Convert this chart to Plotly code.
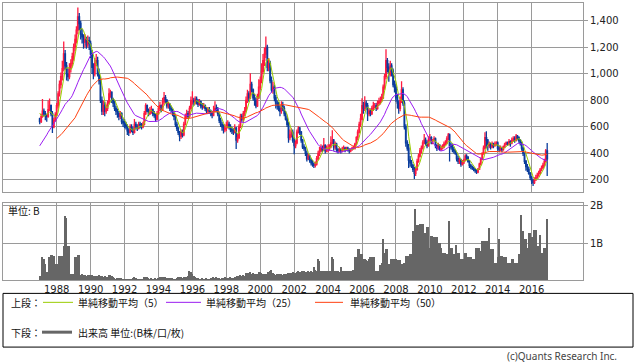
import pandas as pd
import plotly.graph_objects as go

# ---------------- data (monthly, Jan 1987 - Dec 2016) ----------------
# closes before the visible window (needed only for the moving averages), Dec 1983 - Dec 1986
pre_close = [
    430,
    440, 460, 470, 480, 470, 460, 450, 440, 450, 440, 430, 430,
    300, 290, 280, 270, 260, 250, 260, 270, 280, 290, 300, 310,
    400, 460, 520, 560, 600, 640, 680, 700, 760, 740, 720, 660,
]

close = [
    640, 680, 720, 700, 690, 680, 730, 760, 700, 600, 650, 690,            # 1987
    760, 850, 920, 980, 1040, 1150, 1060, 1000, 980, 1040, 1080, 1130,     # 1988
    1200, 1260, 1330, 1430, 1380, 1300, 1280, 1240, 1260, 1220, 1250, 1230,  # 1989
    1150, 1050, 1000, 1080, 1100, 1000, 950, 800, 720, 760, 720, 740,      # 1990
    780, 850, 860, 800, 780, 740, 720, 700, 680, 700, 640, 630,            # 1991
    620, 600, 570, 560, 600, 580, 560, 620, 600, 590, 620, 610,            # 1992
    600, 620, 700, 760, 720, 700, 720, 730, 700, 690, 660, 700,            # 1993
    740, 760, 730, 790, 820, 800, 760, 770, 740, 730, 700, 680,            # 1994
    620, 590, 560, 530, 560, 540, 620, 680, 700, 680, 740, 800,            # 1995
    800, 790, 810, 790, 770, 790, 760, 750, 760, 740, 720, 730,            # 1996
    720, 700, 690, 720, 740, 730, 700, 650, 620, 600, 580, 590,            # 1997
    610, 620, 600, 580, 570, 560, 590, 500, 520, 600, 680, 660,            # 1998
    700, 720, 800, 850, 820, 920, 880, 820, 800, 760, 820, 900,            # 1999
    950, 1020, 1100, 1150, 1200, 1050, 1080, 950, 880, 900, 820, 780,      # 2000
    760, 740, 720, 760, 740, 700, 660, 620, 520, 540, 560, 500,            # 2001
    460, 480, 560, 590, 560, 500, 450, 440, 400, 360, 380, 350,            # 2002
    330, 320, 310, 320, 360, 400, 420, 440, 430, 460, 420, 440,            # 2003
    440, 450, 480, 500, 450, 470, 430, 420, 430, 420, 430, 440,            # 2004
    430, 440, 430, 420, 430, 440, 440, 470, 520, 560, 620, 660,            # 2005
    760, 740, 780, 760, 700, 720, 700, 740, 760, 760, 740, 780,            # 2006
    790, 800, 820, 900, 980, 1100, 1050, 1000, 1060, 1020, 920, 900,       # 2007
    820, 780, 740, 800, 880, 780, 600, 480, 440, 350, 330, 310,            # 2008
    280, 250, 280, 340, 380, 420, 440, 480, 500, 480, 460, 500,            # 2009
    520, 480, 500, 510, 460, 440, 460, 430, 440, 450, 470, 480,            # 2010
    510, 540, 460, 450, 430, 420, 400, 360, 340, 350, 320, 330,            # 2011
    350, 380, 370, 340, 310, 300, 290, 280, 270, 260, 280, 320,            # 2012
    360, 400, 440, 520, 500, 460, 470, 450, 470, 460, 470, 480,            # 2013
    440, 430, 440, 430, 450, 470, 480, 470, 490, 480, 500, 510,            # 2014
    500, 530, 520, 500, 480, 440, 400, 340, 300, 280, 250, 220,            # 2015
    195, 180, 200, 215, 235, 250, 275, 290, 310, 340, 420, 360,            # 2016
]

high = [
    670, 700, 810, 740, 720, 700, 800, 815, 770, 720, 670, 710,
    780, 870, 950, 1010, 1100, 1245, 1180, 1090, 1040, 1080, 1110, 1160,
    1230, 1297, 1360, 1500, 1460, 1400, 1340, 1300, 1300, 1280, 1290, 1280,
    1250, 1180, 1080, 1120, 1150, 1130, 1040, 980, 830, 800, 790, 770,
    800, 892, 880, 870, 820, 800, 760, 740, 720, 720, 710, 660,
    660, 640, 620, 590, 620, 620, 600, 660, 640, 620, 640, 640,
    630, 640, 720, 779, 770, 740, 750, 760, 740, 720, 700, 720,
    760, 790, 770, 820, 863, 840, 810, 790, 780, 760, 740, 710,
    690, 640, 600, 570, 580, 580, 640, 700, 730, 720, 760, 830,
    869, 820, 832, 830, 810, 810, 800, 780, 780, 770, 750, 750,
    750, 730, 720, 760, 794, 770, 750, 710, 670, 640, 620, 620,
    640, 650, 640, 620, 600, 590, 620, 600, 550, 620, 700, 700,
    720, 750, 830, 880, 870, 1005, 940, 890, 850, 820, 850, 960,
    980, 1080, 1150, 1200, 1283, 1220, 1120, 1100, 980, 940, 920, 840,
    800, 790, 760, 794, 790, 760, 720, 680, 640, 580, 590, 580,
    520, 500, 580, 606, 600, 570, 510, 470, 450, 420, 400, 390,
    360, 350, 330, 340, 380, 420, 450, 470, 460, 516, 470, 460,
    470, 470, 530, 576, 510, 490, 480, 440, 450, 440, 450, 460,
    450, 450, 450, 440, 440, 450, 460, 480, 530, 580, 640, 700,
    817, 790, 832, 800, 780, 740, 740, 760, 790, 780, 780, 800,
    820, 830, 850, 920, 1000, 1185, 1120, 1080, 1100, 1080, 1040, 950,
    920, 850, 800, 830, 944, 900, 800, 620, 500, 471, 380, 350,
    320, 300, 300, 360, 400, 441, 460, 500, 546, 520, 500, 530,
    546, 530, 510, 530, 520, 470, 480, 470, 460, 470, 490, 500,
    530, 555, 550, 480, 470, 450, 430, 410, 380, 370, 360, 350,
    360, 395, 395, 380, 350, 320, 310, 300, 290, 280, 290, 330,
    370, 410, 460, 560, 568, 510, 490, 480, 490, 480, 490, 493,
    490, 460, 460, 450, 460, 480, 490, 490, 510, 500, 520, 530,
    530, 546, 540, 530, 510, 490, 450, 410, 350, 320, 300, 260,
    230, 210, 220, 240, 255, 270, 290, 310, 330, 360, 433, 478,
]

low = [
    620, 630, 670, 680, 650, 640, 670, 720, 680, 555, 590, 640,
    680, 740, 830, 890, 950, 1020, 1030, 950, 945, 960, 1010, 1060,
    1100, 1170, 1230, 1300, 1330, 1260, 1230, 1190, 1200, 1190, 1200, 1180,
    1120, 1000, 960, 980, 1060, 980, 920, 780, 690, 690, 681, 700,
    720, 770, 820, 780, 750, 720, 690, 670, 650, 660, 620, 600,
    590, 580, 540, 531, 550, 560, 540, 550, 580, 570, 580, 590,
    580, 590, 610, 690, 710, 680, 690, 700, 680, 670, 640, 650,
    690, 720, 710, 720, 770, 780, 740, 740, 720, 710, 680, 650,
    600, 570, 540, 493, 510, 520, 530, 610, 660, 660, 670, 730,
    770, 760, 770, 770, 750, 760, 740, 730, 740, 720, 700, 700,
    700, 680, 666, 680, 710, 710, 680, 630, 600, 571, 550, 560,
    570, 590, 580, 560, 546, 540, 550, 433, 480, 510, 590, 640,
    640, 680, 710, 780, 790, 810, 860, 800, 760, 741, 750, 810,
    880, 930, 1000, 1060, 1120, 1020, 1020, 930, 860, 850, 794, 740,
    730, 719, 680, 700, 720, 680, 649, 600, 480, 500, 520, 480,
    395, 440, 470, 550, 540, 480, 433, 420, 380, 340, 350, 330,
    310, 300, 290, 295, 310, 350, 380, 410, 410, 420, 400, 410,
    410, 420, 440, 470, 420, 430, 410, 400, 410, 400, 410, 420,
    410, 420, 415, 400, 410, 420, 430, 430, 460, 500, 550, 600,
    650, 700, 720, 730, 644, 680, 680, 690, 720, 740, 720, 730,
    760, 770, 790, 810, 880, 960, 1010, 940, 980, 980, 900, 860,
    790, 740, 700, 719, 780, 760, 580, 450, 420, 290, 300, 290,
    260, 207, 230, 270, 330, 370, 400, 430, 470, 460, 440, 450,
    490, 470, 470, 490, 440, 418, 430, 420, 420, 430, 440, 460,
    470, 500, 340, 430, 410, 400, 390, 340, 320, 320, 300, 310,
    320, 340, 350, 330, 290, 280, 275, 265, 255, 245, 250, 275,
    310, 350, 390, 430, 440, 420, 440, 430, 440, 440, 450, 460,
    420, 410, 418, 410, 420, 440, 460, 456, 460, 450, 470, 490,
    480, 490, 500, 480, 460, 420, 380, 320, 270, 260, 240, 200,
    170, 155, 170, 195, 210, 225, 245, 265, 285, 300, 330, 230,
]

# volume, billions
volume = [
    0.17, 0.17, 0.67, 0.60, 0.48, 0.26, 0.26, 0.65, 0.71, 0.71, 0.70, 0.21,
    0.48, 0.48, 0.69, 0.69, 0.69, 0.95, 1.74, 1.70, 0.95, 0.95, 0.21, 0.21,
    0.21, 0.65, 0.65, 0.71, 0.71, 0.19, 0.20, 0.18, 0.19, 0.17, 0.19, 0.18,
    0.19, 0.18, 0.17, 0.17, 0.15, 0.17, 0.19, 0.17, 0.15, 0.14, 0.15, 0.13,
    0.13, 0.18, 0.19, 0.15, 0.12, 0.10, 0.09, 0.10, 0.10, 0.11, 0.10, 0.09,
    0.08, 0.08, 0.09, 0.07, 0.07, 0.08, 0.10, 0.12, 0.10, 0.09, 0.09, 0.08,
    0.08, 0.09, 0.12, 0.14, 0.12, 0.10, 0.09, 0.10, 0.09, 0.08, 0.10, 0.09,
    0.10, 0.14, 0.13, 0.14, 0.14, 0.12, 0.10, 0.11, 0.10, 0.09, 0.10, 0.09,
    0.09, 0.10, 0.12, 0.14, 0.12, 0.10, 0.12, 0.14, 0.12, 0.17, 0.28, 0.26,
    0.20, 0.15, 0.12, 0.10, 0.10, 0.09, 0.09, 0.10, 0.09, 0.09, 0.10, 0.09,
    0.09, 0.10, 0.10, 0.12, 0.11, 0.12, 0.10, 0.10, 0.09, 0.11, 0.10, 0.12,
    0.11, 0.10, 0.10, 0.12, 0.10, 0.10, 0.14, 0.12, 0.16, 0.17, 0.18, 0.17,
    0.18, 0.17, 0.25, 0.23, 0.24, 0.26, 0.22, 0.24, 0.22, 0.20, 0.22, 0.26,
    0.26, 0.24, 0.22, 0.22, 0.20, 0.22, 0.26, 0.30, 0.33, 0.25, 0.20, 0.19,
    0.20, 0.21, 0.22, 0.20, 0.19, 0.20, 0.22, 0.20, 0.24, 0.23, 0.24, 0.26,
    0.24, 0.25, 0.26, 0.28, 0.26, 0.27, 0.28, 0.30, 0.27, 0.26, 0.28, 0.27,
    0.28, 0.27, 0.39, 0.32, 0.30, 0.61, 0.55, 0.30, 0.30, 0.28, 0.30, 0.29,
    0.30, 0.28, 0.30, 0.67, 0.62, 0.30, 0.28, 0.30, 0.27, 0.40, 0.30, 0.28,
    0.30, 0.29, 0.30, 0.28, 0.29, 0.30, 0.31, 0.65, 0.65, 0.87, 0.87, 0.74,
    0.74, 0.60, 0.60, 0.58, 0.55, 0.60, 0.65, 0.65, 0.65, 0.65, 0.30, 0.30,
    0.30, 0.45, 0.50, 1.13, 0.78, 0.87, 0.87, 0.48, 0.48, 0.60, 0.60, 0.60,
    0.60, 0.57, 0.57, 0.57, 0.48, 0.48, 0.50, 0.69, 0.69, 0.69, 0.74, 0.74,
    1.35, 1.30, 1.94, 1.52, 1.52, 1.54, 1.54, 1.54, 1.29, 1.29, 1.45, 1.45,
    0.91, 1.23, 1.23, 1.20, 1.20, 1.20, 1.04, 1.04, 0.91, 0.78, 0.78, 0.78,
    0.74, 0.74, 1.61, 0.91, 0.91, 0.74, 0.74, 0.97, 0.78, 0.78, 0.61, 0.61,
    0.61, 0.78, 0.78, 0.65, 0.65, 0.65, 0.61, 0.61, 0.61, 0.91, 0.91, 0.91,
    0.82, 1.09, 1.09, 1.09, 1.09, 1.09, 1.42, 0.87, 0.87, 0.87, 0.50, 0.50,
    0.67, 1.13, 0.69, 0.69, 0.67, 0.67, 0.67, 0.50, 0.50, 0.50, 0.61, 0.61,
    0.50, 0.50, 0.50, 0.74, 0.74, 1.77, 1.35, 1.13, 1.13, 0.91, 1.30, 1.30,
    1.20, 1.20, 1.38, 1.38, 0.95, 0.95, 1.25, 0.78, 0.78, 0.91, 0.91, 1.67,
]

year_ticks = [f"{y}-01-01" for y in range(1988, 2017, 2)]
year_labels = [str(y) for y in range(1988, 2017, 2)]
price_ticks = [200, 400, 600, 800, 1000, 1200, 1400]
vol_ticks = [1, 2]
vol_ticktext = ["1B", "2B"]

ma_windows = [5, 25, 50]
ma_colors = ["#99cc00", "#9a1cf0", "#ff4010"]

# ---------------- derived ----------------
n = len(close)
assert len(high) == n and len(low) == n and len(volume) == n
months = pd.date_range("1987-01-01", periods=n, freq="MS")
opens = [pre_close[-1]] + close[:-1]
full = pd.Series(pre_close + close, dtype=float)
mas = [full.rolling(w).mean().iloc[len(pre_close):].values for w in ma_windows]

# ---------------- figure ----------------
W, H = 638, 362
ML, MR = 3, 55
PW = W - ML - MR


def px(xp):
    return (xp - ML) / PW


def py(yp):
    return 1 - yp / H


GRID = "#9a9a9a"
fig = go.Figure()
fig.add_trace(go.Candlestick(
    x=months, open=opens, high=high, low=low, close=close,
    increasing=dict(line=dict(color="#ff1a40", width=1.3), fillcolor="#ff1a40"),
    decreasing=dict(line=dict(color="#0a3c9c", width=1.3), fillcolor="#0a3c9c"),
    whiskerwidth=0, xaxis="x", yaxis="y", hoverinfo="skip"))
for ma, col in zip(mas, ma_colors):
    fig.add_trace(go.Scatter(x=months, y=ma, mode="lines",
                             line=dict(color=col, width=1),
                             xaxis="x", yaxis="y", hoverinfo="skip"))
fig.add_trace(go.Bar(x=months, y=volume, marker=dict(color="#666666", line=dict(width=0)),
                     width=2.7e9, xaxis="x2", yaxis="y2", hoverinfo="skip"))

xcommon = dict(type="date", range=["1984-11-01", "2019-01-11"],
               showgrid=True, gridcolor=GRID, gridwidth=1,
               tickmode="array", tickvals=year_ticks, ticktext=year_labels, ticks="",
               showline=True, mirror=True, linecolor=GRID, linewidth=1,
               zeroline=False)
ycommon = dict(side="right", showgrid=True, gridcolor=GRID, gridwidth=1,
               ticks="outside", ticklen=4, tickcolor=GRID,
               showline=True, mirror=True, linecolor=GRID, linewidth=1,
               zeroline=False, tickfont=dict(family="DejaVu Sans", size=10, color="#222"))

fig.update_layout(
    width=W, height=H, margin=dict(l=ML, r=MR, t=0, b=0),
    paper_bgcolor="white", plot_bgcolor="white", showlegend=False,
    bargap=0,
    xaxis=dict(**xcommon, domain=[0, 1], anchor="y", showticklabels=False,
               rangeslider=dict(visible=False)),
    xaxis2=dict(**xcommon, domain=[0, 1], anchor="y2", matches="x",
                showticklabels=True,
                tickfont=dict(family="DejaVu Sans", size=10, color="#222")),
    yaxis=dict(**ycommon, domain=[py(190.7), py(0.7)], range=[112, 1537],
               tickvals=price_ticks, tickformat=",d"),
    yaxis2=dict(**ycommon, domain=[py(280), py(201.7)], range=[0.03, 2.09],
                tickvals=vol_ticks, ticktext=vol_ticktext),
)

JP = "Noto Sans CJK JP"
shapes = [
    dict(type="rect", xref="paper", yref="paper", x0=px(3), x1=px(633), y0=py(347), y1=py(293),
         line=dict(color="black", width=1), fillcolor="rgba(0,0,0,0)"),
]
row1, row2 = 302, 332
for (a, b), col in zip([(43, 73), (166, 201), (315, 343)], ma_colors):
    shapes.append(dict(type="line", xref="paper", yref="paper", x0=px(a), x1=px(b),
                       y0=py(row1), y1=py(row1), line=dict(color=col, width=1)))
shapes.append(dict(type="line", xref="paper", yref="paper", x0=px(42), x1=px(72),
                   y0=py(row2), y1=py(row2), line=dict(color="#666666", width=3)))
fig.update_layout(shapes=shapes)

anns = [
    ("上段：", 9, row1), ("単純移動平均（5）", 76, row1), ("単純移動平均（25）", 204, row1),
    ("単純移動平均（50）", 348, row1), ("下段：", 9, row2), ("出来高 単位:(B株/口/枚)", 76, row2),
    ("単位: B", 6, 210),
]
for t, xx, yy in anns:
    fig.add_annotation(text=t, xref="paper", yref="paper", x=px(xx), y=py(yy),
                       xanchor="left", yanchor="middle", showarrow=False,
                       font=dict(family=JP, size=10, color="#111"))
fig.add_annotation(text="(c)Quants Research Inc.", xref="paper", yref="paper",
                   x=px(619), y=py(356), xanchor="right", yanchor="middle", showarrow=False,
                   font=dict(family="Noto Sans", size=10, color="#444"))

fig.write_html("out.html", config={"displayModeBar": False},
               post_script="document.body.style.margin='0';document.body.style.padding='0';")
